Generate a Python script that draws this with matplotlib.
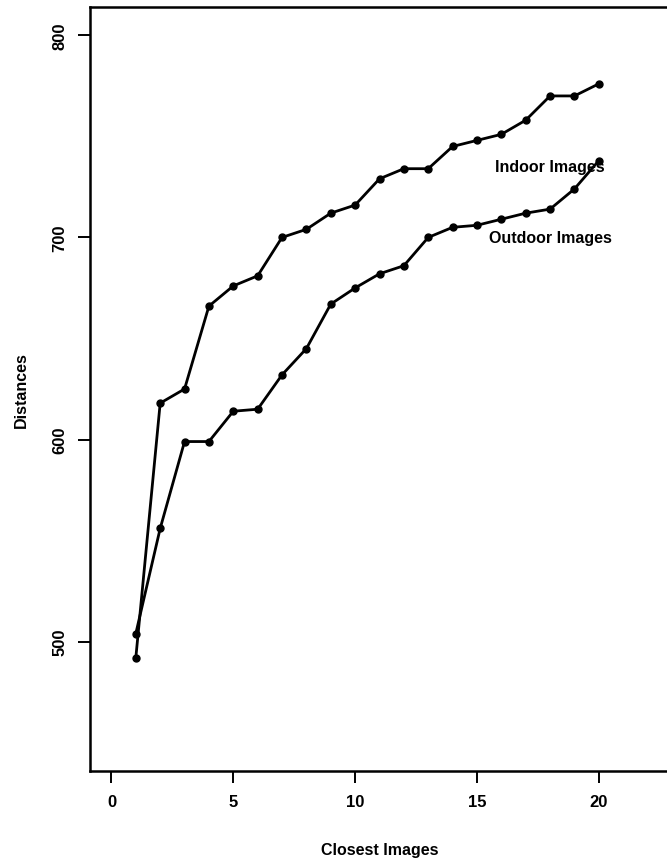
import numpy as np
import matplotlib.pyplot as plt

plt.rcParams['font.family'] = ['Liberation Sans', 'DejaVu Sans']
plt.rcParams['font.weight'] = 'bold'

# number of closest images retrieved
closest = list(range(1, 21))

# distances for the two query sets
indoor = [492, 618, 625, 666, 676, 681, 700, 704, 712, 716,
          729, 734, 734, 745, 748, 751, 758, 770, 770, 776]
outdoor = [504, 556, 599, 599, 614, 615, 632, 645, 667, 675,
           682, 686, 700, 705, 706, 709, 712, 714, 724, 738]

x_ticks = [0, 5, 10, 15, 20]
y_ticks = [500, 600, 700, 800]

fig = plt.figure(figsize=(6.67, 8.62), dpi=100)
ax = fig.add_axes([90 / 667, 90 / 862, 579 / 667, 764 / 862])

ax.plot(closest, indoor, color='black', lw=2.0, marker='o', markersize=5)
ax.plot(closest, outdoor, color='black', lw=2.0, marker='o', markersize=5)

ax.text(18, 735, 'Indoor Images', ha='center', va='center', fontsize=11.5, fontweight='bold')
ax.text(18, 700, 'Outdoor Images', ha='center', va='center', fontsize=11.5, fontweight='bold')

# R-like limits: (0, 22) and (450, 800) padded by 4%
ax.set_xlim(-0.88, 22.88)
ax.set_ylim(436, 814)

ax.set_xticks(x_ticks)
ax.set_yticks(y_ticks)
ax.set_yticklabels([str(v) for v in y_ticks], rotation=90, va='center')
ax.tick_params(axis='both', direction='out', length=8.5, width=1.4,
               labelsize=12, color='black')
ax.tick_params(axis='x', pad=8)
ax.tick_params(axis='y', pad=8)

for sp in ax.spines.values():
    sp.set_linewidth(1.8)

ax.set_xlabel('Closest Images', fontsize=11.5, fontweight='bold', labelpad=24)
ax.set_ylabel('Distances', fontsize=11.5, fontweight='bold', labelpad=17)

fig.savefig('out.png', dpi=100)
